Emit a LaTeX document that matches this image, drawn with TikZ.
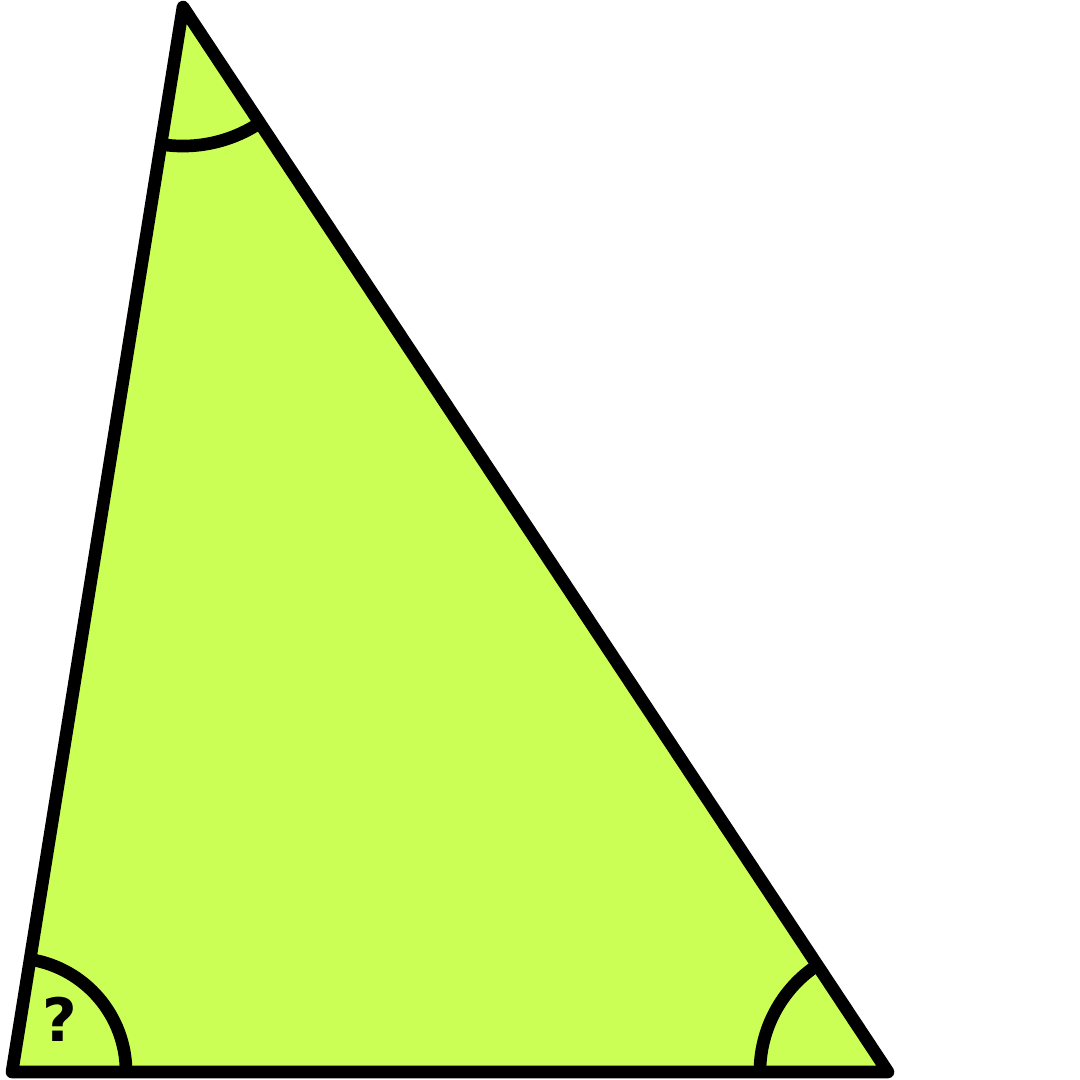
\documentclass[tikz,border=0pt]{standalone}
\usepackage{fontspec}
\setmainfont{DejaVu Sans}
\usetikzlibrary{angles,calc}
\definecolor{limefill}{RGB}{204,255,85}

\begin{document}
\begin{tikzpicture}[x=0.01cm,y=0.01cm,
  edge/.style={line width=3.6pt,line join=round,line cap=round},
  arcline/.style={draw,line width=3.6pt}]
\useasboundingbox (0,0) rectangle (1080,1080);

% Corners
\coordinate (A) at (12,8);
\coordinate (B) at (183,1073);
\coordinate (C) at (888,8);

% Triangle
\filldraw[edge,fill=limefill] (A) -- (B) -- (C) -- cycle;

% Angle arcs
\pic[arcline,angle radius=1.14cm] {angle=C--A--B};
\pic[arcline,angle radius=1.39cm] {angle=A--B--C};
\pic[arcline,angle radius=1.28cm] {angle=B--C--A};

% Unknown angle
\node[font=\bfseries\fontsize{17}{17}\selectfont,inner sep=0pt] (q) at (60,61) {?};
\end{tikzpicture}
\end{document}
